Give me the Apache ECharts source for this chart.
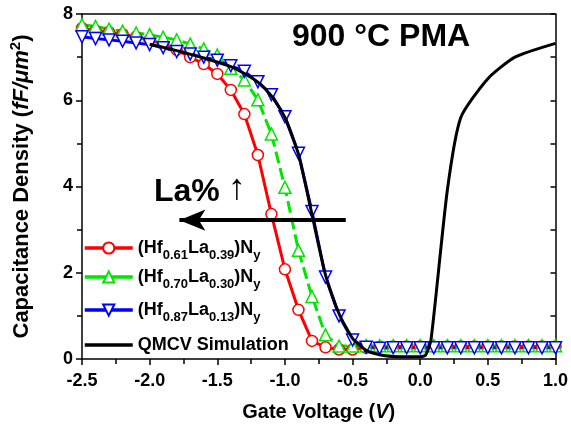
<!DOCTYPE html>
<html>
<head>
<meta charset="utf-8">
<script src="https://cdn.jsdelivr.net/npm/echarts@6/dist/echarts.min.js"></script>
<style>
  html, body { margin: 0; padding: 0; background: #fff; }
  #chart { width: 571px; height: 427px; }
</style>
</head>
<body>
<div id="chart"></div>
<script>
// gate voltage of the measured points (V)
const volts = [-2.5, -2.4, -2.3, -2.2, -2.1, -2.0, -1.9, -1.8, -1.7, -1.6, -1.5, -1.4,
  -1.3, -1.2, -1.1, -1.0, -0.9, -0.8, -0.7, -0.6, -0.5, -0.4, -0.3, -0.2,
  -0.1, 0.0, 0.1, 0.2, 0.3, 0.4, 0.5, 0.6, 0.7, 0.8, 0.9, 1.0];

// capacitance density (fF/um^2)
const hf61 = [7.67, 7.62, 7.58, 7.53, 7.47, 7.40, 7.30, 7.17, 7.00, 6.84, 6.61, 6.24,
  5.68, 4.73, 3.36, 2.08, 1.14, 0.42, 0.27, 0.22, 0.22, 0.26, 0.28, 0.29,
  0.29, 0.29, 0.29, 0.29, 0.29, 0.29, 0.29, 0.29, 0.29, 0.29, 0.29, 0.29];
const hf70 = [7.75, 7.71, 7.65, 7.60, 7.56, 7.52, 7.46, 7.40, 7.30, 7.19, 7.05, 6.74,
  6.47, 6.01, 5.22, 3.98, 2.52, 1.45, 0.56, 0.30, 0.30, 0.31, 0.31, 0.31,
  0.31, 0.31, 0.31, 0.31, 0.31, 0.31, 0.31, 0.31, 0.31, 0.31, 0.31, 0.31];
const hf87 = [7.47, 7.43, 7.40, 7.37, 7.33, 7.29, 7.22, 7.13, 7.07, 7.00, 6.93, 6.80,
  6.67, 6.43, 6.13, 5.62, 4.77, 3.42, 1.90, 1.00, 0.44, 0.27, 0.25, 0.26,
  0.26, 0.26, 0.26, 0.26, 0.26, 0.26, 0.26, 0.26, 0.26, 0.26, 0.26, 0.26];

// QMCV simulation curve
const simV = [-2.0, -1.8, -1.6, -1.4, -1.3, -1.2, -1.1, -1.0, -0.9, -0.8, -0.7, -0.6,
  -0.5, -0.4, -0.3, -0.2, -0.1, 0.0, 0.04, 0.08, 0.2, 0.3, 0.5, 0.7, 1.0];
const simC = [7.30, 7.15, 6.98, 6.78, 6.62, 6.42, 6.10, 5.60, 4.75, 3.35, 1.95, 1.05,
  0.48, 0.20, 0.10, 0.06, 0.05, 0.05, 0.09, 0.45, 3.90, 5.60, 6.50, 7.00, 7.32];

const seriesNames = ['(Hf0.61La0.39)Ny', '(Hf0.70La0.30)Ny', '(Hf0.87La0.13)Ny', 'QMCV Simulation'];
const legendLabels = ['(Hf{s|0.61}La{s|0.39})N{s|y}', '(Hf{s|0.70}La{s|0.30})N{s|y}',
  '(Hf{s|0.87}La{s|0.13})N{s|y}', 'QMCV Simulation'];
const xTicks = { min: -2.5, max: 1.0, step: 0.5 };
const yTicks = { min: 0, max: 8, step: 2 };
const arrowFrom = [-0.55, 3.22];
const arrowTo = [-1.78, 3.22];

const font = "'Liberation Sans', Arial, sans-serif";
const zip = (xs, ys) => xs.map((x, i) => [x, ys[i]]);

const chart = echarts.init(document.getElementById('chart'));

function measured(name, data, color, symbol, rotate, dash) {
  return {
    name: name,
    type: 'line',
    data: zip(volts, data),
    symbol: symbol,
    symbolSize: symbol === 'circle' ? 11 : 12,
    symbolRotate: rotate,
    showAllSymbol: true,
    lineStyle: { color: color, width: 3, type: dash },
    itemStyle: { color: '#fff', borderColor: color, borderWidth: 1.5 },
    emphasis: { disabled: true },
    z: 2
  };
}

const legendTop = [234, 263, 296, 331];
const legends = seriesNames.map((n, i) => ({
  data: [n],
  left: 78,
  top: legendTop[i],
  itemWidth: 48,
  itemHeight: 14,
  itemGap: 0,
  selectedMode: false,
  itemStyle: i === 3 ? { opacity: 0 } : {},
  lineStyle: { width: 3.5, type: 'solid' },
  formatter: () => legendLabels[i],
  textStyle: {
    fontFamily: font, fontSize: 18, fontWeight: 'bold', color: '#000',
    rich: { s: { fontFamily: font, fontSize: 13, fontWeight: 'bold', color: '#000', padding: [14, 0, 0, 0] } }
  }
}));

chart.setOption({
  animation: false,
  grid: { left: 80, right: 11, top: 14, bottom: 68 },
  legend: legends,
  xAxis: [{
    type: 'value',
    min: xTicks.min, max: xTicks.max, interval: xTicks.step,
    position: 'bottom',
    axisLine: { onZero: false, lineStyle: { color: '#000', width: 1.5 } },
    axisTick: { inside: false, length: 6, lineStyle: { color: '#000', width: 1.5 } },
    minorTick: { show: true, splitNumber: 2, length: 5, lineStyle: { color: '#000', width: 1.5 } },
    splitLine: { show: false },
    axisLabel: { fontFamily: font, fontSize: 18, fontWeight: 'bold', color: '#000', margin: 13,
      formatter: v => v.toFixed(1) },
    name: '{a|Gate Voltage (}{i|V}{a|)}',
    nameLocation: 'middle',
    nameGap: 43,
    nameTextStyle: {
      rich: {
        a: { fontFamily: font, fontSize: 20, fontWeight: 'bold', color: '#000' },
        i: { fontFamily: font, fontSize: 20, fontWeight: 'bold', fontStyle: 'italic', color: '#000' }
      }
    }
  }, {
    type: 'value',
    min: xTicks.min, max: xTicks.max, interval: xTicks.step,
    position: 'top',
    axisLine: { onZero: false, lineStyle: { color: '#000', width: 1.5 } },
    axisTick: { show: false },
    axisLabel: { show: false },
    splitLine: { show: false }
  }],
  yAxis: [{
    type: 'value',
    min: yTicks.min, max: yTicks.max, interval: yTicks.step,
    position: 'left',
    axisLine: { show: true, onZero: false, lineStyle: { color: '#000', width: 1.5 } },
    axisTick: { show: true, inside: false, length: 6, lineStyle: { color: '#000', width: 1.5 } },
    minorTick: { show: true, splitNumber: 2, length: 5, lineStyle: { color: '#000', width: 1.5 } },
    splitLine: { show: false },
    axisLabel: { fontFamily: font, fontSize: 18, fontWeight: 'bold', color: '#000', margin: 9 },
    name: '{a|Capacitance Density (}{i|fF/μm}{sup|2}{a|)}',
    nameLocation: 'middle',
    nameGap: 47,
    nameTextStyle: {
      rich: {
        a: { fontFamily: font, fontSize: 22, fontWeight: 'bold', color: '#000' },
        i: { fontFamily: font, fontSize: 22, fontWeight: 'bold', fontStyle: 'italic', color: '#000' },
        sup: { fontFamily: font, fontSize: 15, fontWeight: 'bold', color: '#000', padding: [0, 0, 12, 0] }
      }
    }
  }, {
    type: 'value',
    min: yTicks.min, max: yTicks.max, interval: 1,
    position: 'right',
    axisLine: { show: true, onZero: false, lineStyle: { color: '#000', width: 1.5 } },
    axisTick: { show: true, inside: true, length: 5, lineStyle: { color: '#000', width: 1.5 } },
    axisLabel: { show: false },
    splitLine: { show: false }
  }],
  graphic: [{
    type: 'text', left: 292, top: 21,
    style: { text: '900 °C PMA', fontFamily: font, fontSize: 32, fontWeight: 'bold', fill: '#000' }
  }, {
    type: 'text', left: 154, top: 176,
    style: { text: 'La%', fontFamily: font, fontSize: 32, fontWeight: 'bold', fill: '#000' }
  }, {
    type: 'text', left: 228, top: 171,
    style: { text: '↑', fontFamily: font, fontSize: 36, fill: '#000' }
  }],
  series: [
    measured(seriesNames[0], hf61, '#ff0000', 'circle', 0, 'solid'),
    measured(seriesNames[1], hf70, '#00e600', 'triangle', 0, [12, 5]),
    measured(seriesNames[2], hf87, '#0000ff', 'triangle', 180, 'solid'),
    {
      name: seriesNames[3],
      type: 'line',
      data: zip(simV, simC),
      symbol: 'none',
      smooth: 0.2,
      lineStyle: { color: '#000', width: 3 },
      itemStyle: { color: '#000' },
      emphasis: { disabled: true },
      z: 3,
      markLine: {
        silent: true,
        symbol: ['none', 'arrow'],
        symbolSize: [16, 26],
        label: { show: false },
        lineStyle: { color: '#000', width: 4, type: 'solid' },
        data: [[{ coord: arrowFrom }, { coord: arrowTo }]]
      }
    }
  ]
});
</script>
</body>
</html>
